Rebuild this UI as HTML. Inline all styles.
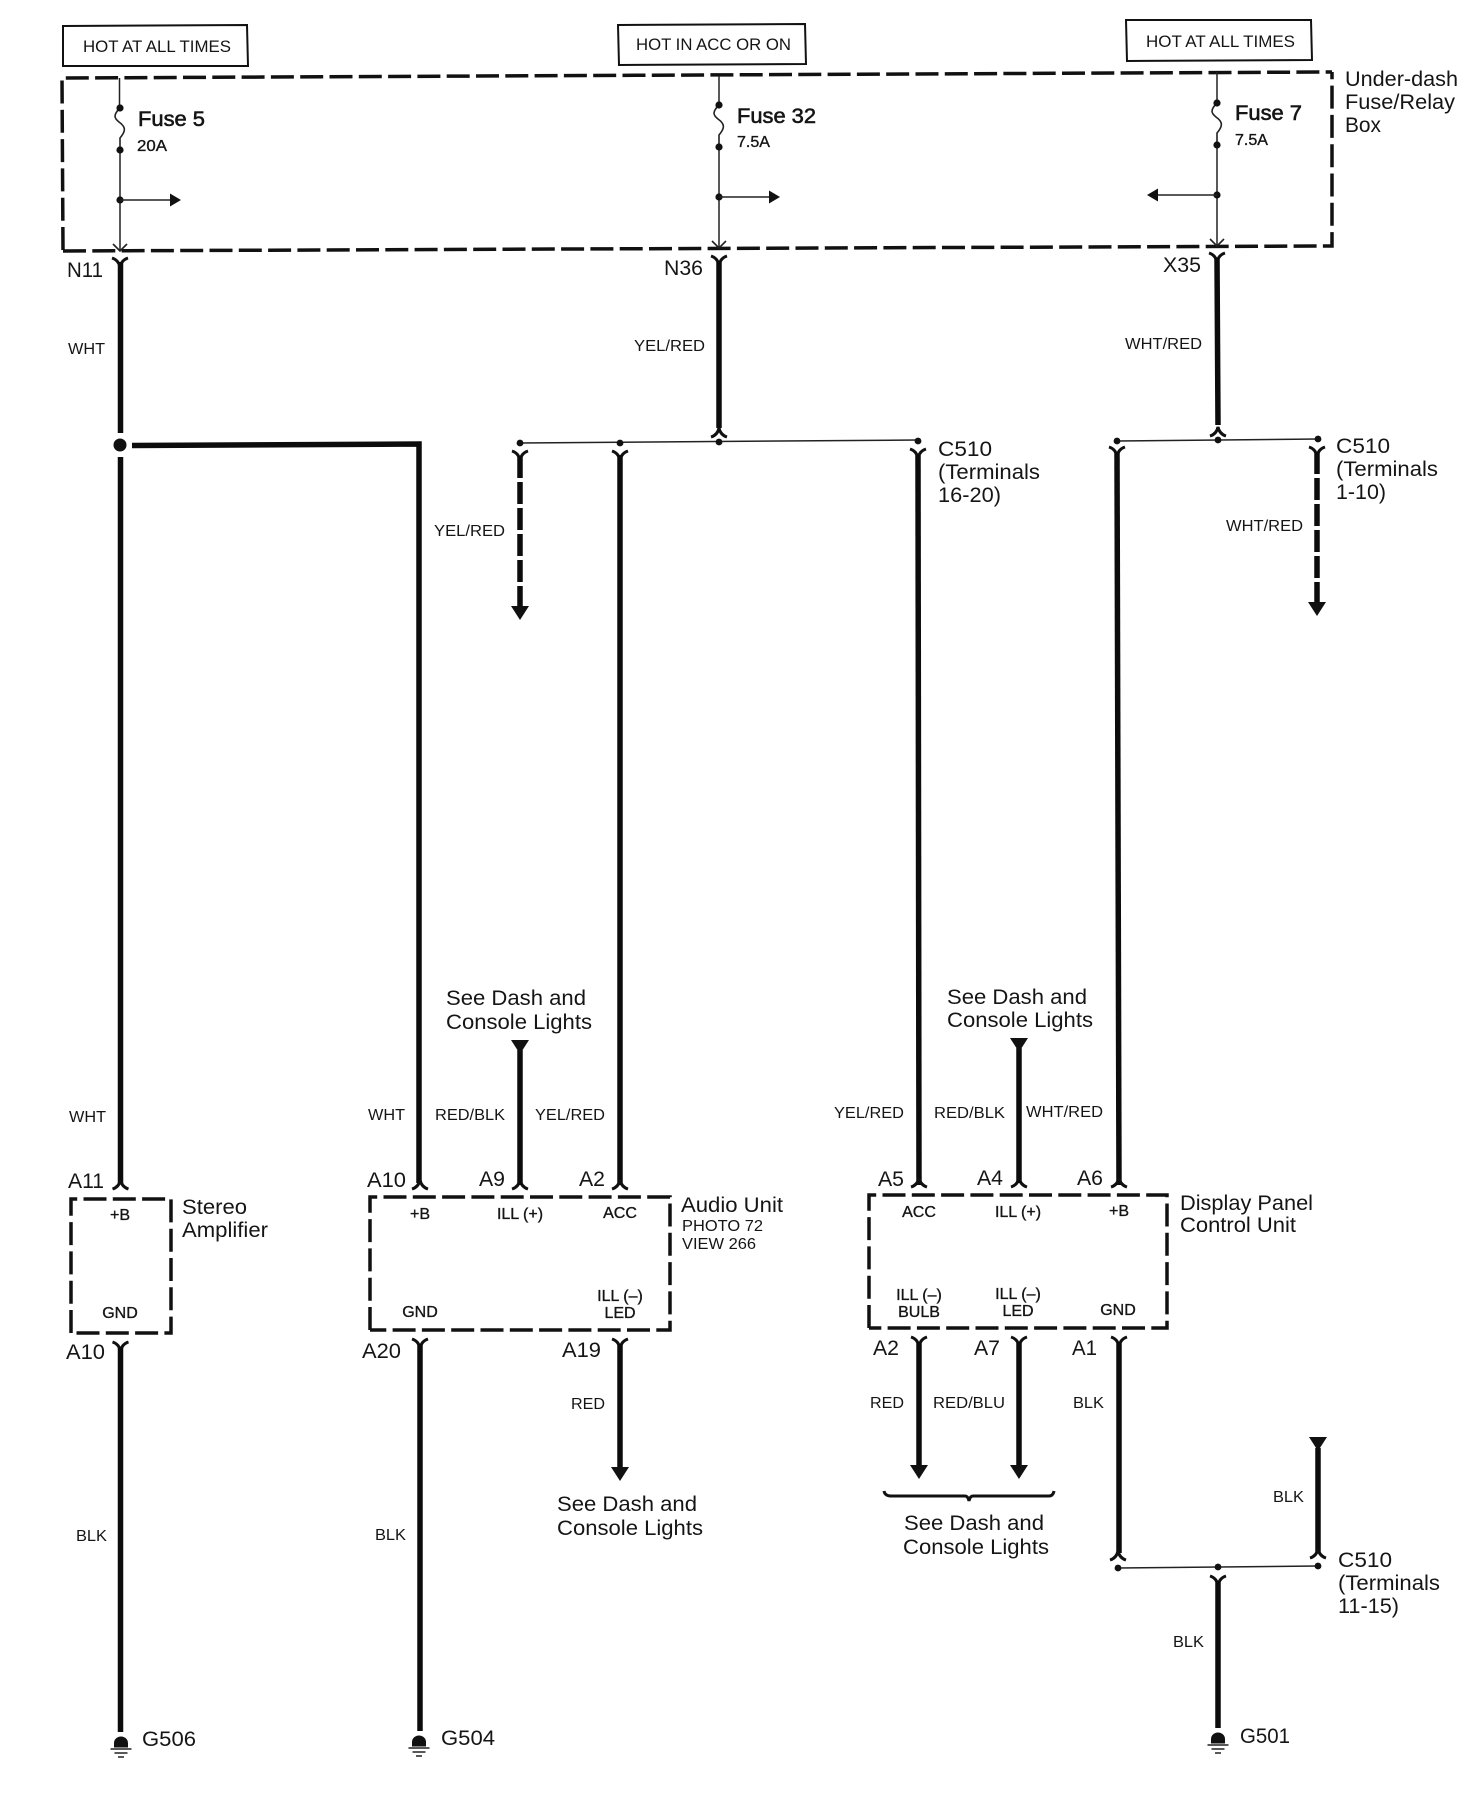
<!DOCTYPE html>
<html><head><meta charset="utf-8"><style>
html,body{margin:0;padding:0;background:#fff}
svg{display:block}
text{font-family:"Liberation Sans",sans-serif;fill:#151515}
.l{font-size:21px}.s{font-size:16px}.m{font-size:16.5px}
.b{stroke:#151515;stroke-width:.35px}
.f{font-size:21px;stroke:#151515;stroke-width:.6px}
.w{stroke:#0c0c0c;stroke-width:5.5;fill:none}
.t{stroke:#222;stroke-width:1.5;fill:none}
.d{stroke:#111;stroke-width:3.5;fill:none;stroke-dasharray:23 6.3}
.r{stroke:#111;stroke-width:2;fill:#fff}
</style></head><body>
<svg width="1484" height="1796" viewBox="0 0 1484 1796" xmlns="http://www.w3.org/2000/svg">
<defs>
<g id="y"><path d="M-8,0 Q-1.5,2 0,9 Q1.5,2 8,0" fill="none" stroke="#111" stroke-width="3"/></g>
<g id="a"><path d="M-8,0 Q-1.5,-2 0,-9 Q1.5,-2 8,0" fill="none" stroke="#111" stroke-width="3"/></g>
<g id="x"><path d="M-7,-7 L0,0 L7,-7" fill="none" stroke="#222" stroke-width="1.6"/></g>
<g id="fuse"><path d="M0,0 C-7,7 -6,10 -1,14 C6,19 6,23 0,30 L0,42" fill="none" stroke="#222" stroke-width="1.6"/><circle cx="0" cy="0" r="3.6" fill="#111"/><circle cx="0" cy="42" r="3.6" fill="#111"/></g>
<g id="gnd"><path d="M-7,4.500 V0 A7,6.500 0 0 1 7,0 V4.500 Z" fill="#111"/><path d="M-10.500,6 H10.500 M-6.500,10 H6.500 M-3,14 H3" stroke="#222" stroke-width="1.4"/></g>
</defs>

<!-- source boxes -->
<path class="r" d="M63,26 L247,25 L248,66 L63,66 Z"/>
<path class="r" d="M618,25 L805,24 L806,64 L619,65 Z"/>
<path class="r" d="M1126,20 L1311,20 L1312,60 L1127,61 Z"/>
<text class="m" x="83" y="52" textLength="148" lengthAdjust="spacingAndGlyphs">HOT AT ALL TIMES</text>
<text class="m" x="636" y="50" textLength="155" lengthAdjust="spacingAndGlyphs">HOT IN ACC OR ON</text>
<text class="m" x="1146" y="47" textLength="149" lengthAdjust="spacingAndGlyphs">HOT AT ALL TIMES</text>

<!-- fuse box -->
<path class="d" d="M63,250 L62,78 L1332,72"/>
<path class="d" d="M63,251 L1332,246 L1332,72"/>
<text class="l" x="1345" y="86" textLength="113" lengthAdjust="spacingAndGlyphs">Under-dash</text>
<text class="l" x="1345" y="109" textLength="110" lengthAdjust="spacingAndGlyphs">Fuse/Relay</text>
<text class="l" x="1345" y="132" textLength="36" lengthAdjust="spacingAndGlyphs">Box</text>

<!-- fuse 5 -->
<path class="t" d="M119.500,78 V108 M120,149 V250"/>
<use href="#fuse" x="120" y="108"/>
<use href="#x" x="120" y="251"/>
<circle cx="120" cy="200" r="3.6" fill="#111"/>
<path class="t" d="M120,200 H171"/><path d="M170,193.500 L181,200 L170,206.500 Z" fill="#111"/>
<text class="f" x="138" y="126" textLength="67" lengthAdjust="spacingAndGlyphs">Fuse 5</text>
<text class="s b" x="137" y="151" textLength="30" lengthAdjust="spacingAndGlyphs">20A</text>

<!-- fuse 32 -->
<path class="t" d="M719,76 V105 M719,147 V248"/>
<use href="#fuse" x="719" y="105"/>
<use href="#x" x="719" y="248"/>
<circle cx="719" cy="197" r="3.6" fill="#111"/>
<path class="t" d="M719,197 H770"/><path d="M769,190.500 L780,197 L769,203.500 Z" fill="#111"/>
<text class="f" x="737" y="123" textLength="79" lengthAdjust="spacingAndGlyphs">Fuse 32</text>
<text class="s b" x="737" y="147" textLength="33" lengthAdjust="spacingAndGlyphs">7.5A</text>

<!-- fuse 7 -->
<path class="t" d="M1217,72 V103 M1217,145 V246"/>
<use href="#fuse" x="1217" y="103"/>
<use href="#x" x="1217" y="246"/>
<circle cx="1217" cy="195" r="3.6" fill="#111"/>
<path class="t" d="M1217,195 H1157"/><path d="M1158,188.500 L1147,195 L1158,201.500 Z" fill="#111"/>
<text class="f" x="1235" y="120" textLength="67" lengthAdjust="spacingAndGlyphs">Fuse 7</text>
<text class="s b" x="1235" y="145" textLength="33" lengthAdjust="spacingAndGlyphs">7.5A</text>

<!-- N11 column -->
<use href="#y" x="120" y="258"/>
<path class="w" d="M120.500,262 V433"/>
<circle cx="120" cy="445" r="6.5" fill="#111"/>
<path class="w" d="M120.500,457 V1183"/>
<path class="w" d="M132,445.500 L419,444 V1183"/>
<text class="l" x="67" y="277" textLength="36" lengthAdjust="spacingAndGlyphs">N11</text>
<text class="s" x="68" y="354" textLength="37" lengthAdjust="spacingAndGlyphs">WHT</text>

<!-- N36 column -->
<use href="#y" x="719" y="256"/>
<path class="w" d="M719,261 V428"/>
<use href="#a" x="719" y="437"/>
<path class="t" d="M520,443 L918,440"/>
<circle cx="520" cy="443" r="3.4" fill="#111"/><circle cx="620" cy="443" r="3.4" fill="#111"/><circle cx="719" cy="442" r="3.4" fill="#111"/><circle cx="918" cy="441" r="3.4" fill="#111"/>
<text class="l" x="664" y="275" textLength="39" lengthAdjust="spacingAndGlyphs">N36</text>
<text class="s" x="634" y="351" textLength="71" lengthAdjust="spacingAndGlyphs">YEL/RED</text>
<use href="#y" x="520" y="451"/><use href="#y" x="620" y="451"/><use href="#y" x="918" y="449"/>
<path class="w" d="M520,456 V607" stroke-dasharray="22 4"/>
<path d="M511,606 H529 L520,620 Z" fill="#111"/>
<text class="s" x="434" y="536" textLength="71" lengthAdjust="spacingAndGlyphs">YEL/RED</text>
<path class="w" d="M620,455 L620,1185"/>
<path class="w" d="M918,455 L919,1185"/>
<text class="l" x="938" y="456" textLength="54" lengthAdjust="spacingAndGlyphs">C510</text>
<text class="l" x="938" y="479" textLength="102" lengthAdjust="spacingAndGlyphs">(Terminals</text>
<text class="l" x="938" y="502" textLength="63" lengthAdjust="spacingAndGlyphs">16-20)</text>

<!-- X35 column -->
<use href="#y" x="1217" y="253"/>
<path class="w" d="M1217,258 L1218,425"/>
<use href="#a" x="1218" y="436"/>
<path class="t" d="M1117,441 L1318,439"/>
<circle cx="1117" cy="441" r="3.4" fill="#111"/><circle cx="1218" cy="440" r="3.4" fill="#111"/><circle cx="1318" cy="439" r="3.4" fill="#111"/>
<text class="l" x="1163" y="272" textLength="38" lengthAdjust="spacingAndGlyphs">X35</text>
<text class="s" x="1125" y="349" textLength="77" lengthAdjust="spacingAndGlyphs">WHT/RED</text>
<use href="#y" x="1117" y="447"/><use href="#y" x="1317" y="447"/>
<path class="w" d="M1117,452 L1119,1185"/>
<path class="w" d="M1317,452 V603" stroke-dasharray="22 4"/>
<path d="M1308,602 H1326 L1317,616 Z" fill="#111"/>
<text class="s" x="1226" y="531" textLength="77" lengthAdjust="spacingAndGlyphs">WHT/RED</text>
<text class="l" x="1336" y="453" textLength="54" lengthAdjust="spacingAndGlyphs">C510</text>
<text class="l" x="1336" y="476" textLength="102" lengthAdjust="spacingAndGlyphs">(Terminals</text>
<text class="l" x="1336" y="499" textLength="50" lengthAdjust="spacingAndGlyphs">1-10)</text>

<!-- stereo amp -->
<use href="#a" x="120.500" y="1189"/>
<path class="d" d="M71,1333 V1199 H171 V1333 H71"/>
<text class="s b" x="120" y="1220" text-anchor="middle">+B</text>
<text class="s b" x="120" y="1318" text-anchor="middle">GND</text>
<text class="s" x="69" y="1122" textLength="37" lengthAdjust="spacingAndGlyphs">WHT</text>
<text class="l" x="68" y="1188" textLength="36" lengthAdjust="spacingAndGlyphs">A11</text>
<text class="l" x="66" y="1359" textLength="39" lengthAdjust="spacingAndGlyphs">A10</text>
<text class="l" x="182" y="1214" textLength="65" lengthAdjust="spacingAndGlyphs">Stereo</text>
<text class="l" x="182" y="1237" textLength="86" lengthAdjust="spacingAndGlyphs">Amplifier</text>
<use href="#y" x="120.500" y="1342"/>
<path class="w" d="M120.500,1347 V1732"/>
<use href="#gnd" x="121" y="1743"/>
<text class="l" x="142" y="1746" textLength="54" lengthAdjust="spacingAndGlyphs">G506</text>
<text class="s" x="76" y="1541" textLength="31" lengthAdjust="spacingAndGlyphs">BLK</text>

<!-- audio unit -->
<use href="#a" x="420" y="1189"/><use href="#a" x="520" y="1189"/><use href="#a" x="620" y="1189"/>
<path class="d" d="M370,1330 V1197 H670 V1330 H370"/>
<path class="w" d="M520,1050 V1185"/><path d="M511,1040 H529 L520,1054 Z" fill="#111"/>
<text class="l" x="446" y="1005" textLength="140" lengthAdjust="spacingAndGlyphs">See Dash and</text>
<text class="l" x="446" y="1029" textLength="146" lengthAdjust="spacingAndGlyphs">Console Lights</text>
<text class="s" x="368" y="1120" textLength="37" lengthAdjust="spacingAndGlyphs">WHT</text>
<text class="s" x="435" y="1120" textLength="70" lengthAdjust="spacingAndGlyphs">RED/BLK</text>
<text class="s" x="535" y="1120" textLength="70" lengthAdjust="spacingAndGlyphs">YEL/RED</text>
<text class="l" x="367" y="1187" textLength="39" lengthAdjust="spacingAndGlyphs">A10</text>
<text class="l" x="479" y="1186" textLength="26" lengthAdjust="spacingAndGlyphs">A9</text>
<text class="l" x="579" y="1186" textLength="26" lengthAdjust="spacingAndGlyphs">A2</text>
<text class="s b" x="420" y="1219" text-anchor="middle">+B</text>
<text class="s b" x="520" y="1219" text-anchor="middle">ILL (+)</text>
<text class="s b" x="620" y="1218" text-anchor="middle">ACC</text>
<text class="s b" x="420" y="1317" text-anchor="middle">GND</text>
<text class="s b" x="620" y="1301" text-anchor="middle">ILL (–)</text>
<text class="s b" x="620" y="1318" text-anchor="middle">LED</text>
<text class="l" x="681" y="1212" textLength="102" lengthAdjust="spacingAndGlyphs">Audio Unit</text>
<text class="s" x="682" y="1231" textLength="81" lengthAdjust="spacingAndGlyphs">PHOTO 72</text>
<text class="s" x="682" y="1249" textLength="74" lengthAdjust="spacingAndGlyphs">VIEW 266</text>
<text class="l" x="362" y="1358" textLength="39" lengthAdjust="spacingAndGlyphs">A20</text>
<text class="l" x="562" y="1357" textLength="39" lengthAdjust="spacingAndGlyphs">A19</text>
<use href="#y" x="420" y="1339"/><use href="#y" x="620" y="1339"/>
<path class="w" d="M420,1344 V1731"/>
<use href="#gnd" x="419" y="1742"/>
<text class="l" x="441" y="1745" textLength="54" lengthAdjust="spacingAndGlyphs">G504</text>
<text class="s" x="375" y="1540" textLength="31" lengthAdjust="spacingAndGlyphs">BLK</text>
<path class="w" d="M620,1344 V1468"/><path d="M611,1467 H629 L620,1481 Z" fill="#111"/>
<text class="s" x="571" y="1409" textLength="34" lengthAdjust="spacingAndGlyphs">RED</text>
<text class="l" x="557" y="1511" textLength="140" lengthAdjust="spacingAndGlyphs">See Dash and</text>
<text class="l" x="557" y="1535" textLength="146" lengthAdjust="spacingAndGlyphs">Console Lights</text>

<!-- display panel -->
<use href="#a" x="919" y="1187"/><use href="#a" x="1019" y="1187"/><use href="#a" x="1119" y="1187"/>
<path class="d" d="M869,1328 V1195 H1167 V1328 H869"/>
<path class="w" d="M1019,1048 V1183"/><path d="M1010,1038 H1028 L1019,1052 Z" fill="#111"/>
<text class="l" x="947" y="1004" textLength="140" lengthAdjust="spacingAndGlyphs">See Dash and</text>
<text class="l" x="947" y="1027" textLength="146" lengthAdjust="spacingAndGlyphs">Console Lights</text>
<text class="s" x="834" y="1118" textLength="70" lengthAdjust="spacingAndGlyphs">YEL/RED</text>
<text class="s" x="934" y="1118" textLength="71" lengthAdjust="spacingAndGlyphs">RED/BLK</text>
<text class="s" x="1026" y="1117" textLength="77" lengthAdjust="spacingAndGlyphs">WHT/RED</text>
<text class="l" x="878" y="1186" textLength="26" lengthAdjust="spacingAndGlyphs">A5</text>
<text class="l" x="977" y="1185" textLength="26" lengthAdjust="spacingAndGlyphs">A4</text>
<text class="l" x="1077" y="1185" textLength="26" lengthAdjust="spacingAndGlyphs">A6</text>
<text class="s b" x="919" y="1217" text-anchor="middle">ACC</text>
<text class="s b" x="1018" y="1217" text-anchor="middle">ILL (+)</text>
<text class="s b" x="1119" y="1216" text-anchor="middle">+B</text>
<text class="s b" x="919" y="1300" text-anchor="middle">ILL (–)</text>
<text class="s b" x="919" y="1317" text-anchor="middle">BULB</text>
<text class="s b" x="1018" y="1299" text-anchor="middle">ILL (–)</text>
<text class="s b" x="1018" y="1316" text-anchor="middle">LED</text>
<text class="s b" x="1118" y="1315" text-anchor="middle">GND</text>
<text class="l" x="1180" y="1210" textLength="133" lengthAdjust="spacingAndGlyphs">Display Panel</text>
<text class="l" x="1180" y="1232" textLength="116" lengthAdjust="spacingAndGlyphs">Control Unit</text>
<text class="l" x="873" y="1355" textLength="26" lengthAdjust="spacingAndGlyphs">A2</text>
<text class="l" x="974" y="1355" textLength="26" lengthAdjust="spacingAndGlyphs">A7</text>
<text class="l" x="1072" y="1355" textLength="25" lengthAdjust="spacingAndGlyphs">A1</text>
<use href="#y" x="919" y="1337"/><use href="#y" x="1019" y="1337"/><use href="#y" x="1119" y="1337"/>
<path class="w" d="M919,1342 V1466"/><path d="M910,1465 H928 L919,1479 Z" fill="#111"/>
<path class="w" d="M1019,1342 V1466"/><path d="M1010,1465 H1028 L1019,1479 Z" fill="#111"/>
<text class="s" x="870" y="1408" textLength="34" lengthAdjust="spacingAndGlyphs">RED</text>
<text class="s" x="933" y="1408" textLength="72" lengthAdjust="spacingAndGlyphs">RED/BLU</text>
<text class="s" x="1073" y="1408" textLength="31" lengthAdjust="spacingAndGlyphs">BLK</text>
<path d="M884,1491 Q885,1496 891,1496 H965 Q968,1496 969,1501 Q970,1496 973,1496 H1049 Q1053,1496 1054,1491" fill="none" stroke="#111" stroke-width="3"/>
<text class="l" x="904" y="1530" textLength="140" lengthAdjust="spacingAndGlyphs">See Dash and</text>
<text class="l" x="903" y="1554" textLength="146" lengthAdjust="spacingAndGlyphs">Console Lights</text>

<!-- ground splice -->
<path class="w" d="M1119,1342 L1119,1553"/>
<use href="#a" x="1118" y="1560"/>
<path class="t" d="M1118,1568 L1318,1566"/>
<circle cx="1118" cy="1568" r="3.4" fill="#111"/><circle cx="1218" cy="1567" r="3.4" fill="#111"/><circle cx="1318" cy="1566" r="3.4" fill="#111"/>
<path class="w" d="M1318,1448 V1553"/><path d="M1309,1437 H1327 L1318,1451 Z" fill="#111"/>
<use href="#a" x="1318" y="1558"/>
<text class="s" x="1273" y="1502" textLength="31" lengthAdjust="spacingAndGlyphs">BLK</text>
<text class="l" x="1338" y="1567" textLength="54" lengthAdjust="spacingAndGlyphs">C510</text>
<text class="l" x="1338" y="1590" textLength="102" lengthAdjust="spacingAndGlyphs">(Terminals</text>
<text class="l" x="1338" y="1613" textLength="61" lengthAdjust="spacingAndGlyphs">11-15)</text>
<use href="#y" x="1218" y="1576"/>
<path class="w" d="M1218,1581 V1728"/>
<use href="#gnd" x="1218" y="1739"/>
<text class="s" x="1173" y="1647" textLength="31" lengthAdjust="spacingAndGlyphs">BLK</text>
<text class="l" x="1240" y="1743" textLength="50" lengthAdjust="spacingAndGlyphs">G501</text>
</svg>
</body></html>
